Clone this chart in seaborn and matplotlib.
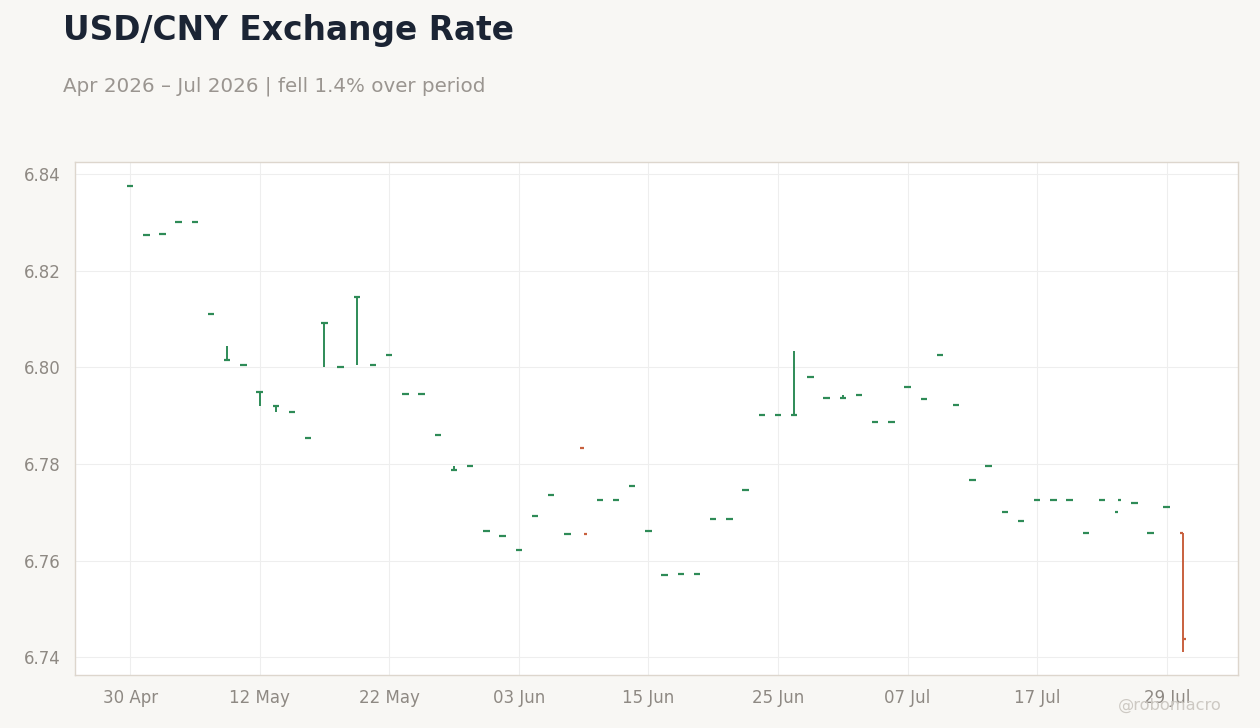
import numpy as np
import pandas as pd
import matplotlib
matplotlib.use("Agg")
import matplotlib.pyplot as plt
import seaborn as sns

# ---- data ----
dates = pd.bdate_range("2026-04-30", "2026-07-30")
open_ = [6.8376, 6.8274, 6.8276, 6.8301, 6.8301, 6.8111, 6.8015, 6.8005, 6.7949, 6.7920,
         6.7908, 6.7853, 6.8092, 6.8001, 6.8146, 6.8005, 6.8026, 6.7945, 6.7945, 6.7860,
         6.7787, 6.7796, 6.7662, 6.7651, 6.7622, 6.7693, 6.7736, 6.7655, 6.7833, 6.7726,
         6.7726, 6.7755, 6.7662, 6.7570, 6.7572, 6.7572, 6.7686, 6.7686, 6.7746, 6.7902,
         6.7902, 6.7902, 6.7980, 6.7937, 6.7937, 6.7943, 6.7887, 6.7887, 6.7960, 6.7935,
         6.8026, 6.7922, 6.7767, 6.7796, 6.7701, 6.7682, 6.7725, 6.7725, 6.7725, 6.7657,
         6.7725, 6.7701, 6.7720, 6.7657, 6.7711, 6.7657]
high = [6.8376, 6.8274, 6.8276, 6.8301, 6.8301, 6.8111, 6.8045, 6.8005, 6.7949, 6.7920,
        6.7908, 6.7853, 6.8092, 6.8001, 6.8146, 6.8005, 6.8026, 6.7945, 6.7945, 6.7860,
        6.7795, 6.7796, 6.7662, 6.7651, 6.7622, 6.7693, 6.7736, 6.7655, 6.7655, 6.7726,
        6.7726, 6.7755, 6.7662, 6.7570, 6.7572, 6.7572, 6.7686, 6.7686, 6.7746, 6.7902,
        6.7902, 6.8034, 6.7980, 6.7937, 6.7942, 6.7943, 6.7887, 6.7887, 6.7960, 6.7935,
        6.8026, 6.7922, 6.7767, 6.7796, 6.7701, 6.7682, 6.7725, 6.7725, 6.7725, 6.7657,
        6.7725, 6.7725, 6.7720, 6.7657, 6.7711, 6.7657]
low = [6.8376, 6.8274, 6.8276, 6.8301, 6.8301, 6.8111, 6.8015, 6.8005, 6.7920, 6.7908,
       6.7908, 6.7853, 6.8001, 6.8001, 6.8005, 6.8005, 6.8026, 6.7945, 6.7945, 6.7860,
       6.7787, 6.7796, 6.7662, 6.7651, 6.7622, 6.7693, 6.7736, 6.7655, 6.7655, 6.7726,
       6.7726, 6.7755, 6.7662, 6.7570, 6.7572, 6.7572, 6.7686, 6.7686, 6.7746, 6.7902,
       6.7902, 6.7902, 6.7980, 6.7937, 6.7937, 6.7943, 6.7887, 6.7887, 6.7960, 6.7935,
       6.8026, 6.7922, 6.7767, 6.7796, 6.7701, 6.7682, 6.7725, 6.7725, 6.7725, 6.7657,
       6.7725, 6.7725, 6.7720, 6.7657, 6.7711, 6.7411]
close = [6.8376, 6.8274, 6.8276, 6.8301, 6.8301, 6.8111, 6.8015, 6.8005, 6.7949, 6.7920,
         6.7908, 6.7853, 6.8092, 6.8001, 6.8146, 6.8005, 6.8026, 6.7945, 6.7945, 6.7860,
         6.7787, 6.7796, 6.7662, 6.7651, 6.7622, 6.7693, 6.7736, 6.7655, 6.7655, 6.7726,
         6.7726, 6.7755, 6.7662, 6.7570, 6.7572, 6.7572, 6.7686, 6.7686, 6.7746, 6.7902,
         6.7902, 6.7902, 6.7980, 6.7937, 6.7937, 6.7943, 6.7887, 6.7887, 6.7960, 6.7935,
         6.8026, 6.7922, 6.7767, 6.7796, 6.7701, 6.7682, 6.7725, 6.7725, 6.7725, 6.7657,
         6.7725, 6.7725, 6.7720, 6.7657, 6.7711, 6.7437]
yticks = [6.74, 6.76, 6.78, 6.80, 6.82, 6.84]

title = "USD/CNY Exchange Rate"
subtitle = "Apr 2026 \u2013 Jul 2026 | fell 1.4% over period"
watermark = "@robomacro"

UP = "#2e8b57"
DOWN = "#c8603e"
BG = "#f8f7f4"

df = pd.DataFrame({"date": dates, "open": open_, "high": high, "low": low, "close": close})
df["pos"] = np.arange(len(df))
df["dir"] = np.where(df["close"] >= df["open"], "up", "down")

sns.set_theme(style="whitegrid")
plt.rcParams["font.family"] = ["DejaVu Sans"]

fig = plt.figure(figsize=(12.6, 7.28), dpi=100, facecolor=BG)
ax = fig.add_axes([75 / 1260, 1 - 675 / 728, (1238 - 75) / 1260, (675 - 162) / 728])
ax.set_facecolor("white")

palette = {"up": UP, "down": DOWN}
colors = df["dir"].map(palette)
ax.vlines(df["pos"], df["low"], df["high"], colors=colors, linewidth=1.4, zorder=3)
tick_w = 0.2
ax.hlines(df["open"], df["pos"] - tick_w, df["pos"], colors=colors, linewidth=1.6, zorder=3)
ax.hlines(df["close"], df["pos"], df["pos"] + tick_w, colors=colors, linewidth=1.6, zorder=3)

ax.set_xlim(-3.4, 68.4)
ax.set_ylim(6.7363, 6.8425)
ax.set_yticks(yticks)
ax.set_yticklabels([f"{v:.2f}" for v in yticks])
xt = df["pos"].iloc[::8]
ax.set_xticks(xt)
ax.set_xticklabels([d.strftime("%d %b") for d in df["date"].iloc[::8]])

ax.grid(True, color="#eeeeee", linewidth=0.8)
ax.set_axisbelow(True)
for s in ax.spines.values():
    s.set_color("#ddd6cd")
    s.set_linewidth(1.0)
ax.tick_params(axis="both", colors="#b5afa8", labelcolor="#8e8983", labelsize=12,
               length=4, width=1, direction="out", pad=6)
ax.set_xlabel("")
ax.set_ylabel("")

fig.text(63 / 1260, 1 - 40 / 728, title, fontsize=23.7, fontweight="bold",
         color="#1b2434", ha="left", va="baseline")
fig.text(63 / 1260, 1 - 92 / 728, subtitle, fontsize=14.3, color="#9a9590",
         ha="left", va="baseline")
fig.text(1222 / 1260, 1 - 710 / 728, watermark, fontsize=11.7, color="#cdc9c3",
         ha="right", va="baseline")

fig.savefig("out.png", dpi=100, facecolor=BG)
